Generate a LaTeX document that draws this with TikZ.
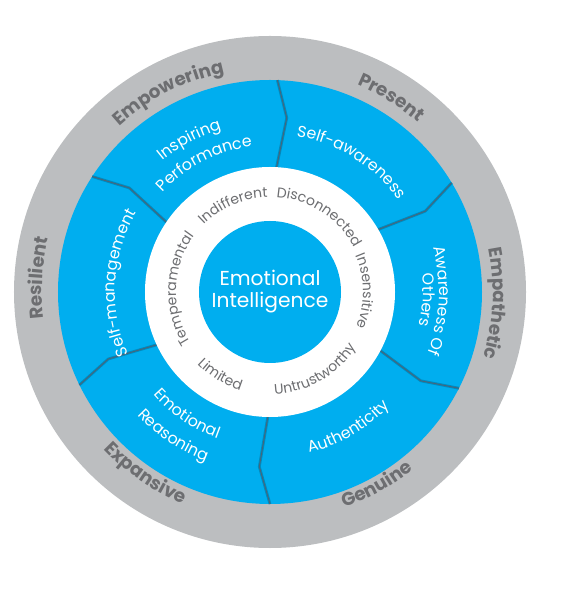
\documentclass[tikz,border=0pt]{standalone}
\usepackage{fontspec}
\setmainfont{Poppins}
\usepackage{tikz}
\usetikzlibrary{decorations.text}
\definecolor{eiblue}{HTML}{00AEEF}
\definecolor{ringgray}{HTML}{BCBEC0}
\definecolor{ringtext}{HTML}{6D6E71}
\definecolor{wordgray}{HTML}{6D6E71}
\definecolor{seamdark}{HTML}{4B6478}
\newcommand\ringfont{\fontsize{10.5}{12}\selectfont\bfseries\color{ringtext}}
\newcommand\segfont{\fontsize{9}{11}\selectfont\color{white}}
\newcommand\wordfont{\fontsize{8}{10}\selectfont\color{wordgray}}
\tikzset{
  disc/.style={fill=#1,draw=none},
  seam/.style={draw=seamdark,line width=.5pt},
  seamshade/.style={draw=eiblue!80!black,line width=1.6pt},
  along/.style={decorate,decoration={text along path,text align=center,text/.expanded={#1}}},
}

\begin{document}
\begin{tikzpicture}
    \useasboundingbox (-5.4,-6.0) rectangle (5.94,5.84);
    \fill[disc=ringgray] (0,0) circle (5.12);
    \fill[disc=eiblue] (0,0) circle (4.24);
    \foreach \ang in {88,31,-27,-90,206,147}{
      \draw[seamshade] (\ang:4.24) -- (\ang-3.5:3.5) -- (\ang-1:2.5);
      \draw[seam] (\ang:4.24) -- (\ang-3.5:3.5) -- (\ang-1:2.5);
    }
    \fill[disc=white] (0,0) circle (2.5);
    \fill[disc=eiblue] (0,0) circle (1.42);
    \node[font=\fontsize{11.5}{12.5}\selectfont,text=white,align=center] (ei) at (0,0) {Emotional\\Intelligence};
    \foreach \ang/\rad/\word in {117/4.48/Empowering,58/4.5/Present,-3/4.46/Empathetic,176.5/4.56/Resilient}
      \path[along={|\noexpand\ringfont|\word}] (\ang+80:\rad) arc[start angle=\ang+80,end angle=\ang-80,radius=\rad];
    \foreach \ang/\rad/\word in {-61/4.56/Genuine,235.5/4.58/Expansive}
      \path[along={|\noexpand\ringfont|\word}] (\ang-80:\rad) arc[start angle=\ang-80,end angle=\ang+80,radius=\rad];
    \foreach \ang/\rad/\word in {118/3.39/Inspiring,117/2.93/Performance,58/3.16/Self-awareness,-3/3.38/Awareness Of,-3/3.06/Others,176.5/3.1/Self-management}
      \path[along={|\noexpand\segfont|\word}] (\ang+80:\rad) arc[start angle=\ang+80,end angle=\ang-80,radius=\rad];
    \foreach \ang/\rad/\word in {-60/3.31/Authenticity,235.8/3.11/Emotional,236/3.62/Reasoning}
      \path[along={|\noexpand\segfont|\word}] (\ang-80:\rad) arc[start angle=\ang-80,end angle=\ang+80,radius=\rad];
    \foreach \ang/\rad/\word in {113/1.89/Indifferent,57/1.9/Disconnected,0.5/1.86/Insensitive,178/1.88/Temperamental}
      \path[along={|\noexpand\wordfont|\word}] (\ang+80:\rad) arc[start angle=\ang+80,end angle=\ang-80,radius=\rad];
    \foreach \ang/\rad/\word in {-60/2.05/Untrustworthy,239/2.05/Limited}
      \path[along={|\noexpand\wordfont|\word}] (\ang-80:\rad) arc[start angle=\ang-80,end angle=\ang+80,radius=\rad];
\end{tikzpicture}
\end{document}
